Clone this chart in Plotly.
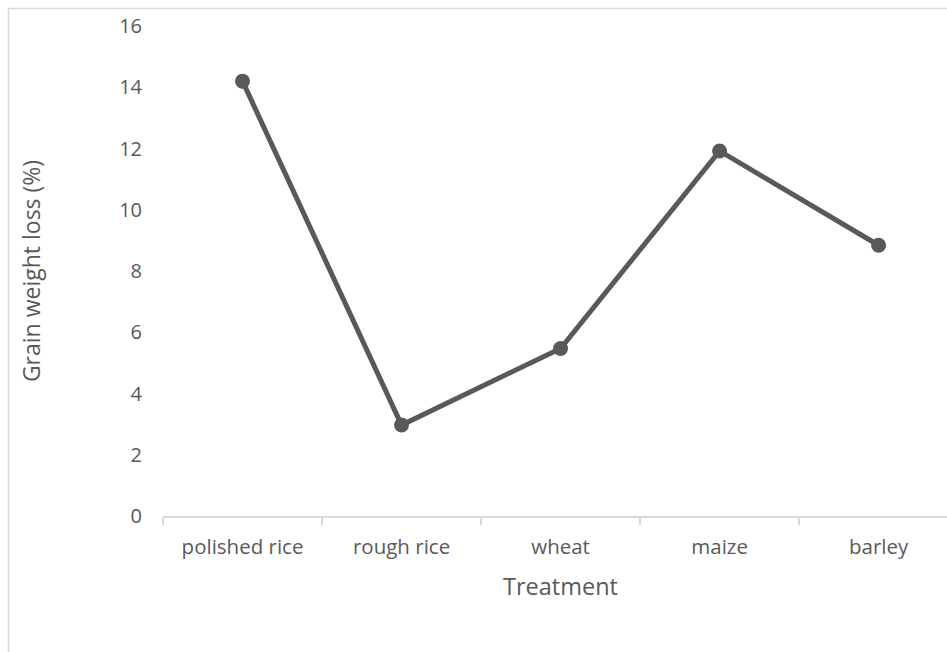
import plotly.graph_objects as go

# Grain weight loss by treatment
treatments = ["polished rice", "rough rice", "wheat", "maize", "barley"]
weight_loss = [14.2, 2.97, 5.47, 11.92, 8.84]
y_ticks = [0, 2, 4, 6, 8, 10, 12, 14, 16]

TEXT = "#595959"
AXIS = "#d9d9d9"
FONT = "Open Sans, Lato, sans-serif"

# Plot area geometry (pixels) used to place the border and x title
PLOT_LEFT, PLOT_TOP, PLOT_W, PLOT_H = 163, 26, 784, 490

fig = go.Figure(
    go.Scatter(
        x=treatments,
        y=weight_loss,
        mode="lines+markers",
        line=dict(color="#595959", width=5),
        marker=dict(color="#595959", size=15),
        cliponaxis=False,
    )
)

fig.update_layout(
    width=947,
    height=652,
    margin=dict(l=PLOT_LEFT, r=0, t=PLOT_TOP, b=652 - PLOT_TOP - PLOT_H),
    paper_bgcolor="white",
    plot_bgcolor="white",
    showlegend=False,
    font=dict(family=FONT, size=20, color=TEXT),
)

fig.update_xaxes(
    type="category",
    range=[-0.5, 4.43],
    showgrid=False,
    showline=True,
    linecolor=AXIS,
    linewidth=2,
    ticks="outside",
    tickson="boundaries",
    ticklen=7,
    tickcolor=AXIS,
    tickwidth=1.5,
    ticklabelstandoff=11,
    tickfont=dict(size=20.5, color=TEXT),
    zeroline=False,
)

fig.update_yaxes(
    range=[0, 16],
    tickvals=y_ticks,
    showgrid=False,
    showline=False,
    zeroline=False,
    ticks="",
    ticklabelstandoff=20,
    tickfont=dict(size=20, color=TEXT),
    title=dict(text="Grain weight loss (%)", font=dict(size=23, color=TEXT), standoff=72),
)

# X axis title, centred under the five category slots
fig.add_annotation(
    text="Treatment",
    xref="paper",
    yref="paper",
    x=(560.5 - PLOT_LEFT) / PLOT_W,
    y=-(586 - (PLOT_TOP + PLOT_H)) / PLOT_H,
    xanchor="center",
    yanchor="middle",
    showarrow=False,
    font=dict(size=23.5, color=TEXT),
)

# Light chart-area border running off the right and bottom edges
fig.add_shape(
    type="rect",
    xref="paper",
    yref="paper",
    x0=(8.5 - PLOT_LEFT) / PLOT_W,
    x1=1.5,
    y0=-1.0,
    y1=1 + (PLOT_TOP - 8.5) / PLOT_H,
    line=dict(color=AXIS, width=1.5),
    fillcolor="rgba(0,0,0,0)",
    layer="below",
)

fig.write_html("out.html")
